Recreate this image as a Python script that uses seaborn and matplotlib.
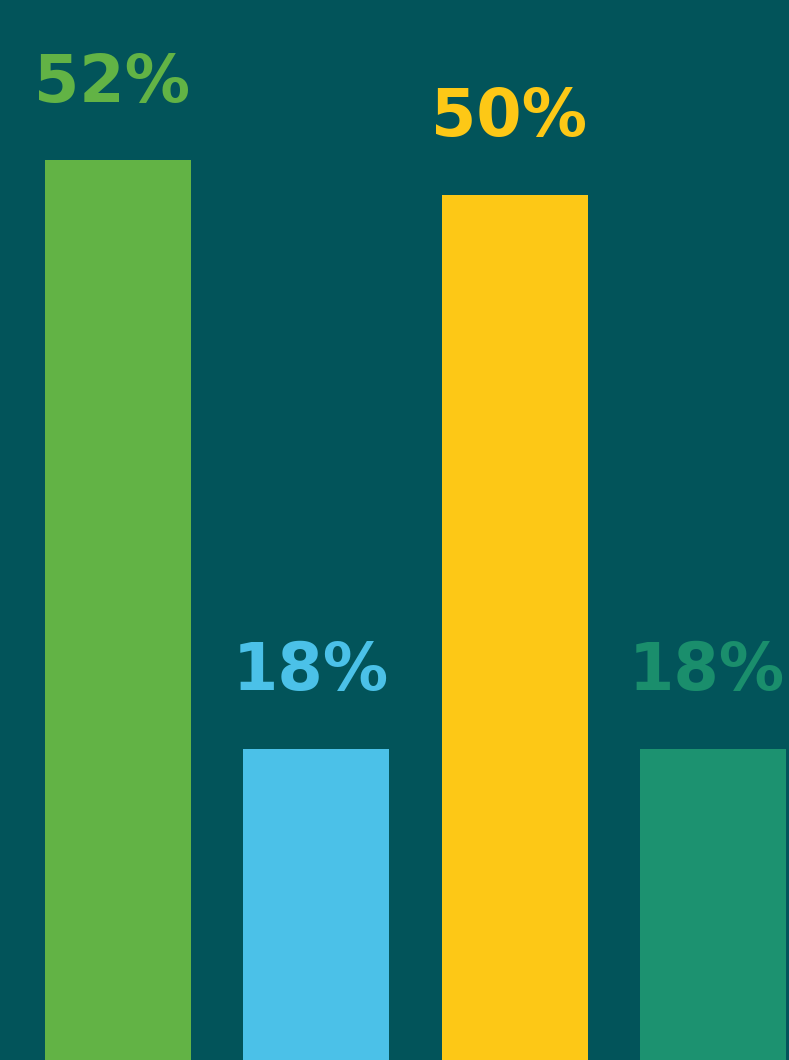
import numpy as np
import pandas as pd
import matplotlib
matplotlib.use("Agg")
import matplotlib.pyplot as plt
import seaborn as sns

# values
categories = ["A", "B", "C", "D"]
values = [52, 18, 50, 18]
labels = ["52%", "18%", "50%", "18%"]
bar_colors = ["#62B345", "#4BC1E8", "#FDC816", "#1C9270"]
label_colors = ["#62B345", "#4BC1E8", "#FDC816", "#1A8E6C"]
bg = "#02545A"

df = pd.DataFrame({"cat": categories, "val": values})

sns.set_style("white")
plt.rcParams['font.family'] = ['DejaVu Sans']

fig = plt.figure(figsize=(7.89, 10.6), dpi=100, facecolor=bg)
ax = fig.add_axes([0, 0, 1, 1])
ax.set_facecolor(bg)

sns.barplot(data=df, x="cat", y="val", hue="cat", palette=bar_colors,
            width=0.737, legend=False, ax=ax, saturation=1, linewidth=0)

for i, (v, lab) in enumerate(zip(values, labels)):
    ax.text(i - 0.03, v + 3.4, lab, ha="center", va="baseline",
            fontsize=47, fontweight="bold", color=label_colors[i])

ax.set_xlim(-0.596, 3.384)
ax.set_ylim(0, 61.27)
ax.set_axis_off()

plt.savefig("out.png", dpi=100, facecolor=bg)
